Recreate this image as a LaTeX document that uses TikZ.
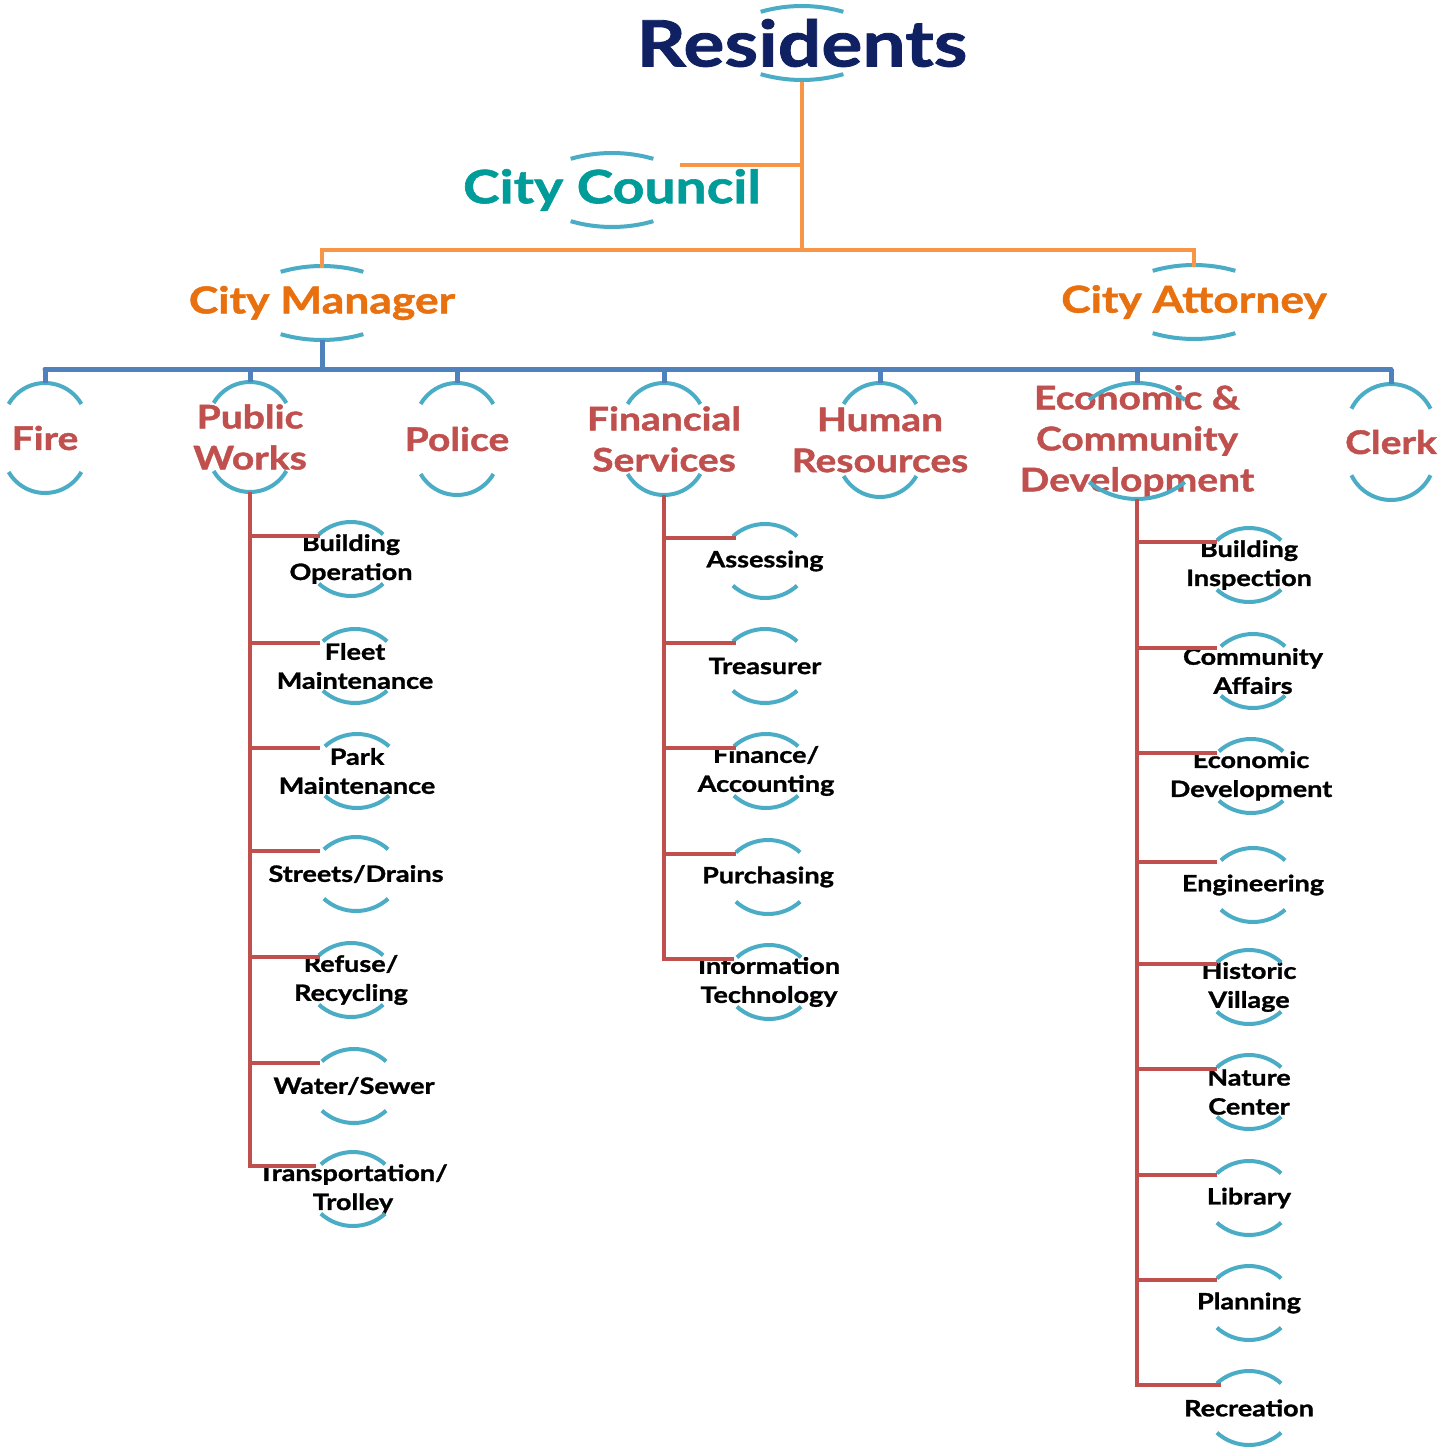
\documentclass[tikz,border=0pt]{standalone}
\usepackage{fontspec}
\setmainfont{Lato}[FakeStretch=1.2,BoldFeatures={FakeBold=1.3}]
\usetikzlibrary{calc}

\definecolor{navy}{HTML}{0F2163}
\definecolor{teal}{HTML}{009C9A}
\definecolor{dorange}{HTML}{E8700E}
\definecolor{dred}{HTML}{C0504D}
\definecolor{arcblue}{HTML}{4BACC6}
\definecolor{lorange}{HTML}{F79646}
\definecolor{lblue}{HTML}{4F81BD}

% pair of arcs round a node: radius, start angle, half height
\newcommand{\brackets}[4]{%
  \draw[arcline] ($(#1.center)+(0,#4-#2)+(#3:#2)$) arc[start angle=#3, end angle=180-#3, radius=#2];
  \draw[arcline] ($(#1.center)+(0,#2-#4)+(-#3:#2)$) arc[start angle=-#3, end angle=-180+#3, radius=#2];
}

\begin{document}
\begin{tikzpicture}[x=1pt,y=1pt,
  arcline/.style={draw=arcblue,line width=4pt},
  orangeline/.style={draw=lorange,line width=4pt},
  blueline/.style={draw=lblue,line width=5pt},
  redline/.style={draw=dred,line width=4.5pt},
  top/.style={font=\bfseries\fontsize{64}{70}\selectfont,text=navy},
  head/.style={font=\bfseries\fontsize{37}{44}\selectfont},
  dept/.style={font=\bfseries\fontsize{32.5}{41}\selectfont,text=dred,align=center},
  unit/.style={font=\bfseries\fontsize{22.5}{29}\selectfont,align=center}]
\useasboundingbox (0,0) rectangle (1455,-1447);

\node[top] (residents) at (802,-43) {Residents};
\node[head,text=teal,font=\bfseries\fontsize{46}{50}\selectfont] (council) at (612,-190) {City Council};
\node[head,text=dorange] (manager) at (322,-303) {City Manager};
\node[head,text=dorange] (attorney) at (1194,-302) {City Attorney};

\node[dept] (fire) at (45,-438) {Fire};
\node[dept] (pubworks) at (250,-437) {Public\\Works};
\node[dept] (police) at (457,-439) {Police};
\node[dept] (finance) at (664,-439) {Financial\\Services};
\node[dept] (hr) at (880,-440) {Human\\Resources};
\node[dept] (ecd) at (1137,-441) {Economic \&\\Community\\Development};
\node[dept] (clerk) at (1391,-442) {Clerk};

\node[unit] (bldgop) at (351,-559) {Building\\Operation};
\node[unit] (fleet) at (355,-666) {Fleet\\Maintenance};
\node[unit] (park) at (357,-771) {Park\\Maintenance};
\node[unit] (streets) at (356,-874) {Streets/Drains};
\node[unit] (refuse) at (351,-980) {Refuse/\\Recycling};
\node[unit] (water) at (354,-1086) {Water/Sewer};
\node[unit] (trolley) at (353,-1189) {Transportation/\\Trolley};

\node[unit] (assess) at (765,-561) {Assessing};
\node[unit] (treas) at (765,-666) {Treasurer};
\node[unit] (acct) at (766,-771) {Finance/\\Accounting};
\node[unit] (purch) at (768,-877) {Purchasing};
\node[unit] (infotech) at (769,-982) {Information\\Technology};

\node[unit] (inspect) at (1249,-565) {Building\\Inspection};
\node[unit] (commaff) at (1253,-671) {Community\\Affairs};
\node[unit] (econdev) at (1251,-776) {Economic\\Development};
\node[unit] (engin) at (1253,-885) {Engineering};
\node[unit] (historic) at (1249,-987) {Historic\\Village};
\node[unit] (nature) at (1249,-1092) {Nature\\Center};
\node[unit] (library) at (1249,-1198) {Library};
\node[unit] (planning) at (1249,-1303) {Planning};
\node[unit] (recreation) at (1249,-1408) {Recreation};

% arcs
\foreach \n in {residents,council,manager,attorney}
  \brackets{\n}{150}{74}{37};
\foreach \n/\h in {fire/55,pubworks/55,police/56,finance/56,hr/57}
  \brackets{\n}{42}{30}{\h};
\brackets{clerk}{44}{26}{58}
\brackets{ecd}{76}{51}{58}
\foreach \n in {bldgop,fleet,park,streets,refuse,water,trolley,
  assess,treas,acct,purch,infotech,
  inspect,commaff,econdev,engin,historic,nature,library,planning,recreation}
  \brackets{\n}{48}{48}{37};

% council and top level
\coordinate (topbus) at (0,-250);
\coordinate (cc) at ([shift={(68,25)}]council.center);
\draw[orangeline] ([yshift=-39pt]residents.center) -- (residents |- topbus);
\draw[orangeline] (cc) -- (residents |- cc);
\draw[orangeline] ([yshift=35pt]manager.center) |- (residents |- topbus) -| ([yshift=35pt]attorney.center);

% departments
\coordinate (midbus) at (0,-369);
\draw[blueline] ([yshift=-37pt]manager.center) -- (manager |- midbus);
\draw[blueline,line cap=round] (fire |- midbus) -- (clerk |- midbus);
\foreach \n/\h in {fire/55,pubworks/55,police/56,finance/56,hr/57,ecd/58,clerk/58}
  \draw[blueline] (\n |- midbus) -- ([yshift=\h pt]\n.center);

% units
\foreach \c in {bldgop,fleet,park,streets,refuse,water,trolley,
  assess,treas,acct,purch,infotech,
  inspect,commaff,econdev,engin,historic,nature,library,planning,recreation}
  \coordinate (\c-j) at ([yshift=23pt]\c.center);

\draw[redline] ([yshift=-55pt]pubworks.center) -- (pubworks |- trolley-j) -- ++(66,0);
\foreach \c in {bldgop,fleet,park,streets,refuse,water}
  \draw[redline] (pubworks |- \c-j) -- ++(70,0);

\draw[redline] ([yshift=-56pt]finance.center) -- (finance |- infotech-j) -- ++(70,0);
\foreach \c in {assess,treas,acct,purch}
  \draw[redline] (finance |- \c-j) -- ++(72,0);

\draw[redline] ([yshift=-58pt]ecd.center) -- (ecd |- recreation-j) -- ++(84,0);
\foreach \c in {inspect,commaff,econdev,engin,historic,nature,library,planning}
  \draw[redline] (ecd |- \c-j) -- ++(80,0);
\end{tikzpicture}
\end{document}
